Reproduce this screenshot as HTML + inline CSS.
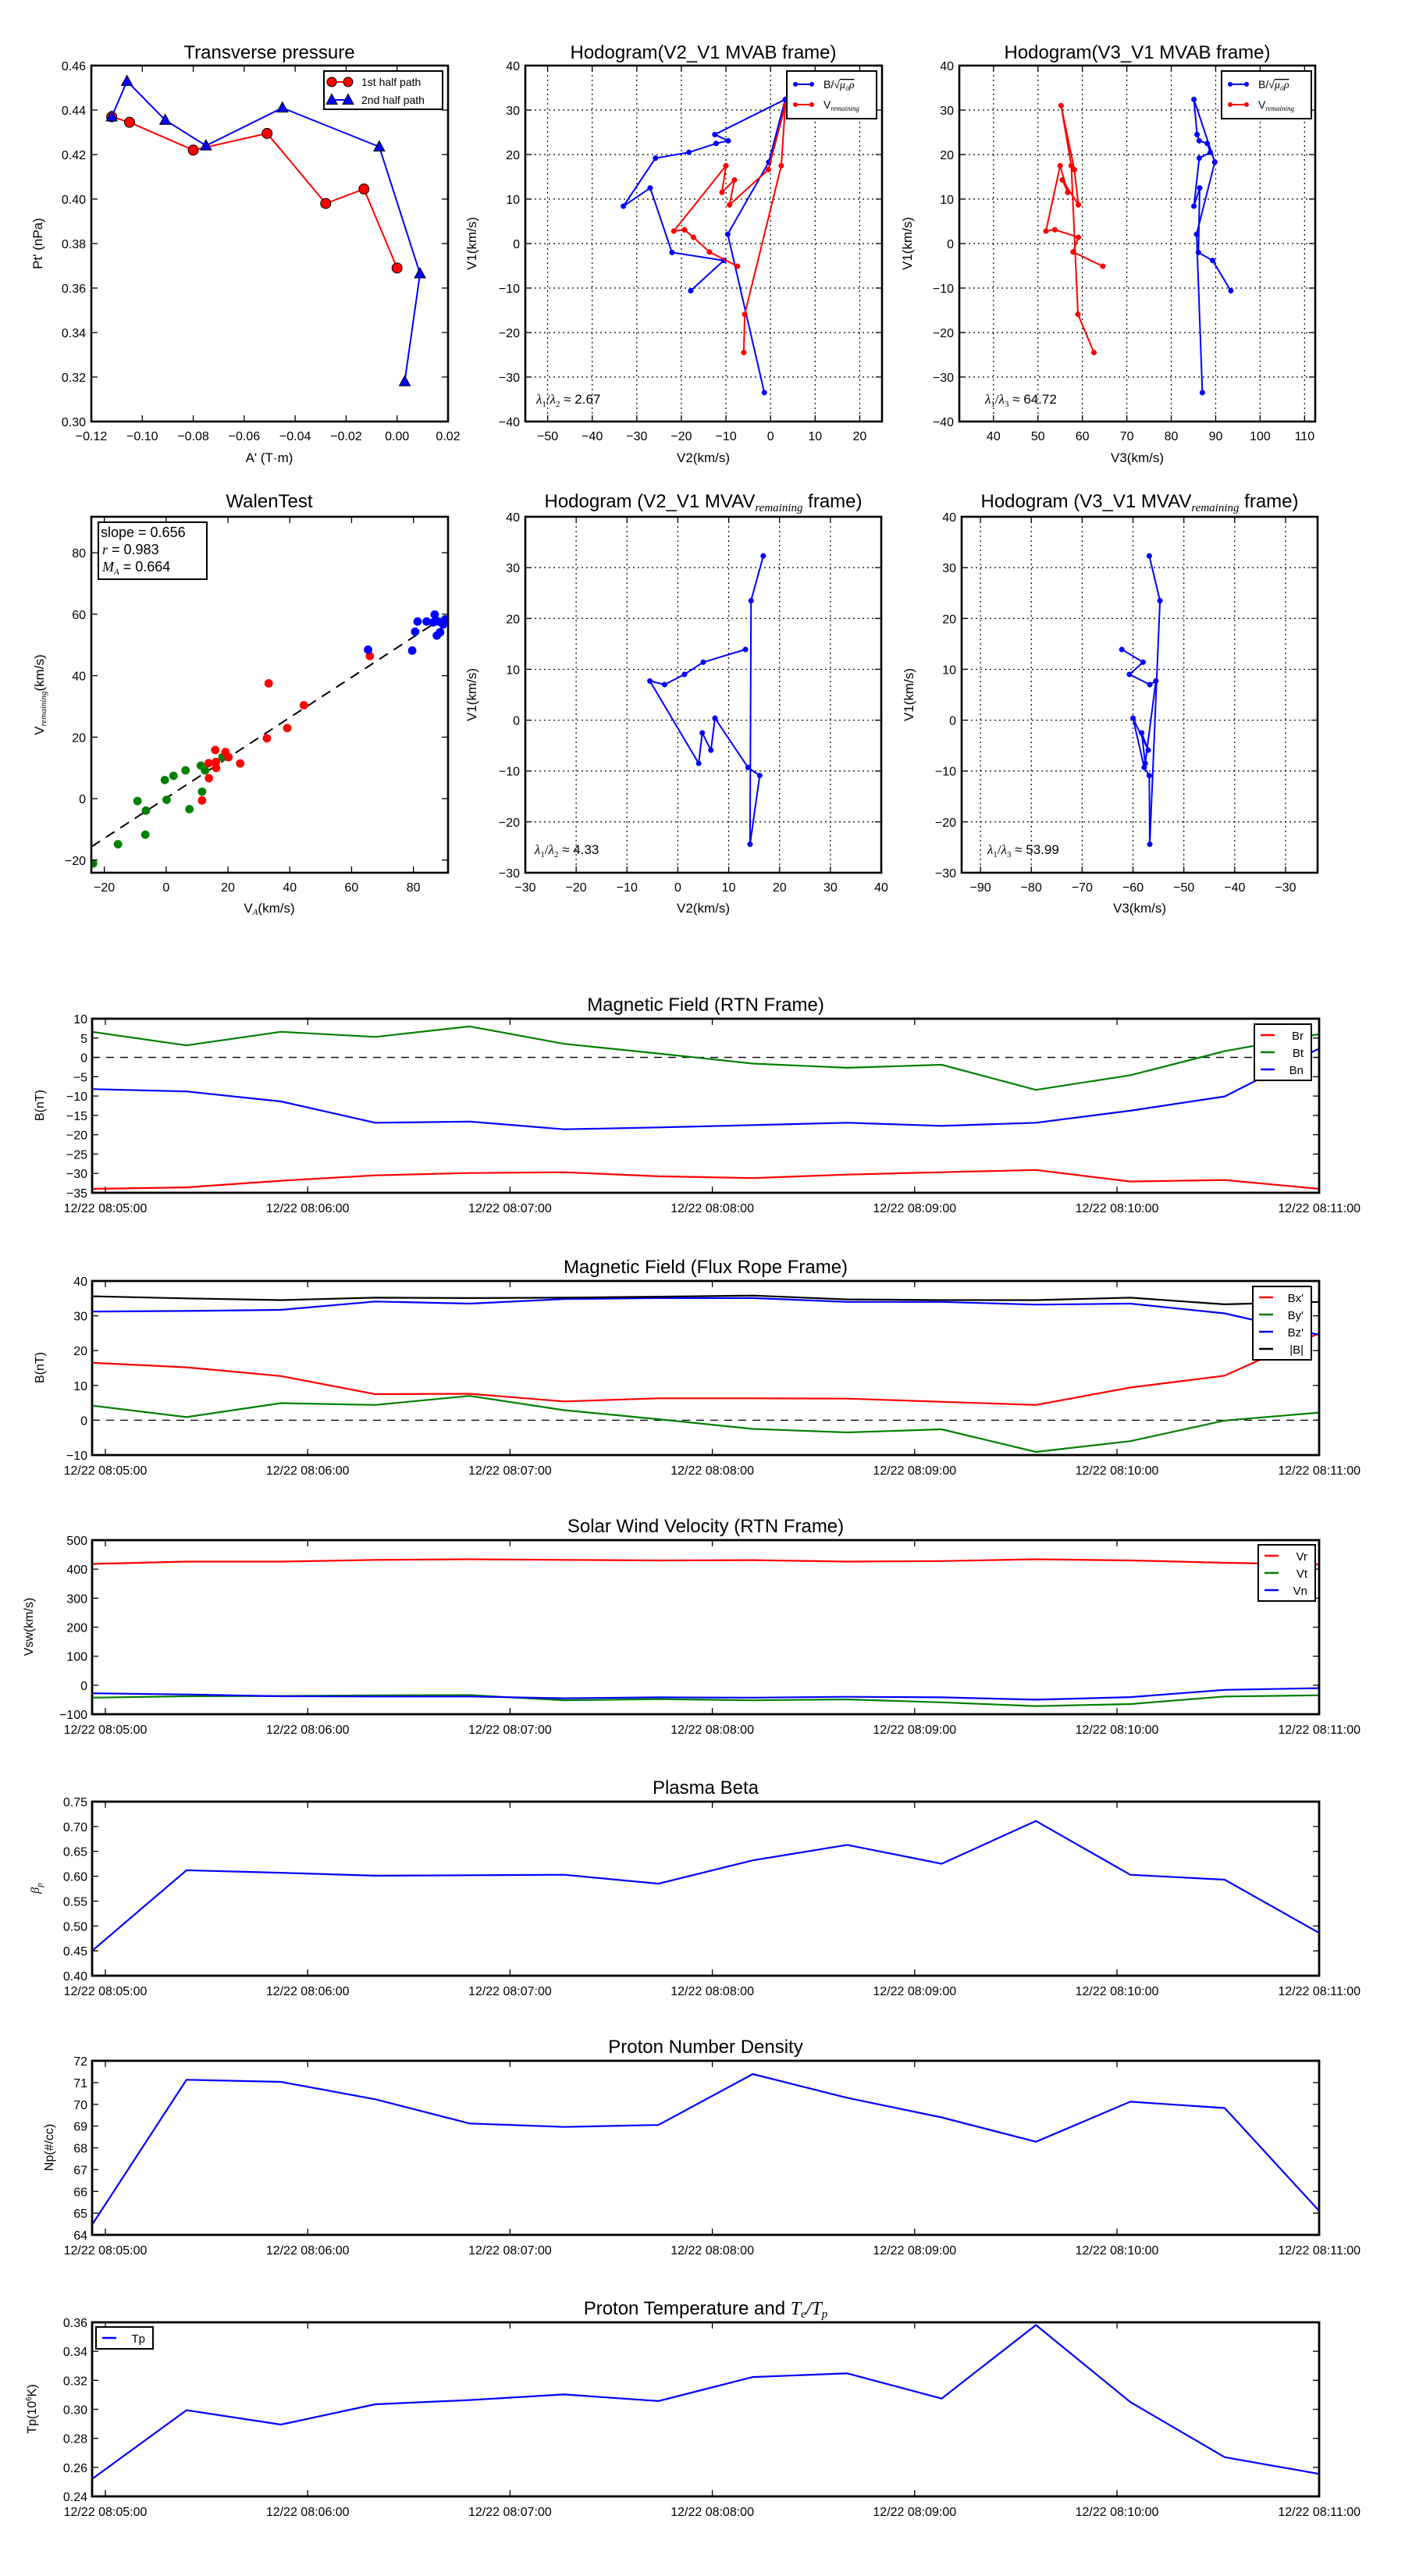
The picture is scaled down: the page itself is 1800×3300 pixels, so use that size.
<!DOCTYPE html>
<html><head><meta charset="utf-8">
<style>
html,body{margin:0;padding:0;background:#fff;}
svg{display:block;font-family:"Liberation Sans",sans-serif;}
</style></head>
<body>
<svg id="s" xmlns="http://www.w3.org/2000/svg" width="1800" height="3300" viewBox="0 0 1800 3300"></svg>
<script>
const NS="http://www.w3.org/2000/svg";
const S=document.getElementById('s');
function el(tag,a,txt,parent){const e=document.createElementNS(NS,tag);for(const k in a)e.setAttribute(k,a[k]);if(txt!==undefined&&txt!==null)e.textContent=txt;(parent||S).appendChild(e);return e;}
function mk(o){o.X=v=>o.l+(v-o.x0)/(o.x1-o.x0)*(o.r-o.l);o.Y=v=>o.b-(v-o.y0)/(o.y1-o.y0)*(o.b-o.t);return o;}
function fmt(v,d){let s=v.toFixed(d);if(s.startsWith('-'))s='\u2212'+s.slice(1);return s;}
function rng(a,b,s){const r=[];for(let v=a;v<=b+s*1e-6;v+=s)r.push(+v.toFixed(6));return r;}
function grid(o,xt,yt){
  xt.forEach(v=>{const x=o.X(v);el('line',{x1:x,x2:x,y1:o.t,y2:o.b,stroke:'#000','stroke-width':1.2,'stroke-dasharray':'2,4'});});
  yt.forEach(v=>{const y=o.Y(v);el('line',{x1:o.l,x2:o.r,y1:y,y2:y,stroke:'#000','stroke-width':1.2,'stroke-dasharray':'2,4'});});
}
function frame(o,xt,yt,xd,yd,fs,xlabs){
  fs=fs||16;
  xt.forEach((v,i)=>{const x=o.X(v);
    el('line',{x1:x,x2:x,y1:o.b,y2:o.b-8,stroke:'#000','stroke-width':1.3});
    el('line',{x1:x,x2:x,y1:o.t,y2:o.t+8,stroke:'#000','stroke-width':1.3});
    el('text',{x:x,y:o.b+24,'font-size':fs,'text-anchor':'middle'},xlabs?xlabs[i]:fmt(v,xd));});
  yt.forEach(v=>{const y=o.Y(v);
    el('line',{x1:o.l,x2:o.l+8,y1:y,y2:y,stroke:'#000','stroke-width':1.3});
    el('line',{x1:o.r,x2:o.r-8,y1:y,y2:y,stroke:'#000','stroke-width':1.3});
    el('text',{x:o.l-7,y:y+6,'font-size':fs,'text-anchor':'end'},fmt(v,yd));});
  el('rect',{x:o.l,y:o.t,width:o.r-o.l,height:o.b-o.t,fill:'none',stroke:'#000','stroke-width':2.6});
}
function poly(o,pts,c,w){return el('polyline',{points:pts.map(p=>o.X(p[0]).toFixed(1)+','+o.Y(p[1]).toFixed(1)).join(' '),fill:'none',stroke:c,'stroke-width':w||2,'stroke-linejoin':'round'});}
function dots(o,pts,c,r){pts.forEach(p=>el('circle',{cx:o.X(p[0]),cy:o.Y(p[1]),r:r,fill:c,stroke:c,'stroke-width':0.5}));}
function title(x,y,t,fs){return el('text',{x:x,y:y,'font-size':fs||24,'text-anchor':'middle'},t);}
function ylab(x,y,t,fs){return el('text',{x:x,y:y,'font-size':fs||17,'text-anchor':'middle',transform:`rotate(-90 ${x} ${y})`},t);}
const R='#ff0000',G='#008000',B='#0000ff';

/* ---------- Transverse pressure ---------- */
let o=mk({l:117,r:574,t:84,b:540,x0:-0.12,x1:0.02,y0:0.30,y1:0.46});
let red=[[-0.112,0.437],[-0.105,0.4345],[-0.080,0.422],[-0.051,0.4295],[-0.028,0.398],[-0.013,0.4045],[0.000,0.369]];
let blu=[[-0.112,0.437],[-0.106,0.453],[-0.091,0.4355],[-0.075,0.424],[-0.045,0.441],[-0.007,0.4235],[0.009,0.3665],[0.003,0.318]];
poly(o,red,R,2);poly(o,blu,B,2);
red.forEach(p=>el('circle',{cx:o.X(p[0]),cy:o.Y(p[1]),r:6.5,fill:R,stroke:'#000','stroke-width':1}));
function tri(x,y,c){el('polygon',{points:`${x},${y-7.5} ${x-7},${y+5.5} ${x+7},${y+5.5}`,fill:c,stroke:'#000','stroke-width':1});}
blu.forEach(p=>tri(o.X(p[0]),o.Y(p[1]),B));
frame(o,rng(-0.12,0.02,0.02),rng(0.30,0.46,0.02),2,2,16);
title(345,75,'Transverse pressure');
ylab(54,312,"Pt' (nPa)");
el('text',{x:345,y:592,'font-size':17,'text-anchor':'middle'},"A' (T\u00b7m)");
el('rect',{x:415,y:91,width:152,height:49,fill:'#fff',stroke:'#000','stroke-width':2});
el('line',{x1:425,x2:446,y1:105,y2:105,stroke:R,'stroke-width':2});
el('circle',{cx:425,cy:105,r:6,fill:R,stroke:'#000'});el('circle',{cx:446,cy:105,r:6,fill:R,stroke:'#000'});
el('text',{x:463,y:110,'font-size':14},'1st half path');
el('line',{x1:425,x2:446,y1:128,y2:128,stroke:B,'stroke-width':2});
tri(425,128,B);tri(446,128,B);
el('text',{x:463,y:133,'font-size':14},'2nd half path');

/* ---------- Hodogram V2_V1 MVAB ---------- */
function hodoLegend(x,y){
  el('rect',{x:x,y:y,width:115,height:61,fill:'#fff',stroke:'#000','stroke-width':2});
  el('line',{x1:x+11,x2:x+32,y1:y+17,y2:y+17,stroke:B,'stroke-width':2});
  el('circle',{cx:x+11,cy:y+17,r:3,fill:B});el('circle',{cx:x+32,cy:y+17,r:3,fill:B});
  const t=el('text',{x:x+47,y:y+22,'font-size':14},'B/\u221a');
  el('tspan',{'font-family':'Liberation Serif, serif','font-style':'italic','text-decoration':'overline'},'\u03bc\u2080\u03c1',t);
  el('line',{x1:x+11,x2:x+32,y1:y+43,y2:y+43,stroke:R,'stroke-width':2});
  el('circle',{cx:x+11,cy:y+43,r:3,fill:R});el('circle',{cx:x+32,cy:y+43,r:3,fill:R});
  const t2=el('text',{x:x+47,y:y+48,'font-size':14},'V');
  el('tspan',{'font-family':'Liberation Serif, serif','font-style':'italic','font-size':9,dy:3},'remaining',t2);
}
function lam(x,y,a,b,val){
  const t=el('text',{x:x,y:y,'font-size':17,'font-family':'Liberation Serif, serif'},'');
  el('tspan',{'font-style':'italic'},'\u03bb',t);el('tspan',{'font-size':11,dy:4},'1',t);
  el('tspan',{dy:-4},'/',t);el('tspan',{'font-style':'italic'},'\u03bb',t);el('tspan',{'font-size':11,dy:4},b,t);
  el('tspan',{dy:-4,'font-family':'Liberation Sans, sans-serif'},' \u2248 '+val,t);
}
o=mk({l:673,r:1130,t:84,b:540,x0:-55,x1:25,y0:-40,y1:40});
grid(o,rng(-50,20,10),rng(-40,40,10));
let bp=[[-1.4,-33.5],[-9.6,2.1],[-0.4,18.3],[3.3,32.4],[-12.5,24.5],[-9.5,23.1],[-12.2,22.5],[-18.3,20.5],[-25.8,19.2],[-33,8.4],[-27,12.5],[-22.1,-2.0],[-10.5,-3.8],[-17.9,-10.6]];
let rp=[[-6.0,-24.5],[-5.8,-15.9],[2.4,17.5],[3.3,31.0],[-0.5,16.6],[-9.2,8.7],[-8.1,14.3],[-10.9,11.5],[-10,17.5],[-21.7,2.8],[-19.3,3.1],[-17.3,1.4],[-13.7,-1.9],[-7.4,-5.1]];
poly(o,bp,B);dots(o,bp,B,3.3);poly(o,rp,R);dots(o,rp,R,3.3);
frame(o,rng(-50,20,10),rng(-40,40,10),0,0,16);
hodoLegend(1008,91);
lam(687,517,'1','2','2.67');
title(901,75,'Hodogram(V2_V1 MVAB frame)');
ylab(610,312,'V1(km/s)');
el('text',{x:901,y:592,'font-size':17,'text-anchor':'middle'},'V2(km/s)');

/* ---------- Hodogram V3_V1 MVAB ---------- */
o=mk({l:1229,r:1685,t:84,b:540,x0:32.3,x1:112.4,y0:-40,y1:40});
grid(o,rng(40,110,10),rng(-40,40,10));
const bv3=[87.0,85.7,89.8,85.1,85.8,86.3,88.1,88.8,86.3,85.1,86.4,86.1,89.3,93.4];
const rv3=[62.6,59.0,57.5,55.2,58.2,59.1,55.5,56.7,55.0,51.8,53.8,59.1,57.9,64.6];
bp=bp.map((p,i)=>[bv3[i],p[1]]);rp=rp.map((p,i)=>[rv3[i],p[1]]);
poly(o,bp,B);dots(o,bp,B,3.3);poly(o,rp,R);dots(o,rp,R,3.3);
frame(o,rng(40,110,10),rng(-40,40,10),0,0,16);
hodoLegend(1565,91);
lam(1262,517,'1','3','64.72');
title(1457,75,'Hodogram(V3_V1 MVAB frame)');
ylab(1168,312,'V1(km/s)');
el('text',{x:1457,y:592,'font-size':17,'text-anchor':'middle'},'V3(km/s)');

/* ---------- Walen ---------- */
o=mk({l:117,r:574,t:662,b:1118,x0:-24.2,x1:91.2,y0:-24.1,y1:91.7});
const g=el('g',{'clip-path':'url(#cw)'});
const cp=el('clipPath',{id:'cw'});el('rect',{x:117,y:662,width:457,height:456},null,cp);
el('line',{x1:117.3,y1:1084.6,x2:573.8,y2:787.3,stroke:'#000','stroke-width':2,'stroke-dasharray':'13,9'},null,g);
const W=(arr,c)=>arr.forEach(p=>el('circle',{cx:p[0]/2.6,cy:600+p[1]/2.6,r:5.4,fill:c},null,g));
W([[310,1316],[393,1252],[458,1108],[486,1140],[484,1220],[549,1038],[555,1104],[578,1024],[618,1006],[631,1135],[669,990],[673,1077],[683,1006],[741,962]],G);
W([[673,1106],[695,982],[696,1032],[717,938],[719,978],[720,998],[751,945],[761,962],[800,983],[889,899],[895,716],[957,865],[1012,789],[1232,625]],R);
W([[1226,604],[1373,607],[1383,544],[1391,510],[1421,510],[1448,487],[1443,513],[1455,557],[1466,546],[1477,516],[1483,503],[1476,520],[1460,510]],B);
frame(o,rng(-20,80,20),rng(-20,80,20),0,0,16);
el('rect',{x:126,y:669,width:139,height:73,fill:'#fff',stroke:'#000','stroke-width':2});
el('text',{x:129,y:688,'font-size':18},'slope = 0.656');
let t=el('text',{x:131,y:710,'font-size':18},'');el('tspan',{'font-family':'Liberation Serif, serif','font-style':'italic'},'r',t);el('tspan',{},' = 0.983',t);
t=el('text',{x:131,y:732,'font-size':18},'');el('tspan',{'font-family':'Liberation Serif, serif','font-style':'italic'},'M',t);el('tspan',{'font-family':'Liberation Serif, serif','font-style':'italic','font-size':11,dy:4},'A',t);el('tspan',{dy:-4},' = 0.664',t);
title(345,650,'WalenTest');
t=el('text',{x:56,y:890,'font-size':17,'text-anchor':'middle',transform:'rotate(-90 56 890)'},'V');
el('tspan',{'font-family':'Liberation Serif, serif','font-style':'italic','font-size':11,dy:3},'remaining',t);el('tspan',{dy:-3},'(km/s)',t);
t=el('text',{x:345,y:1169,'font-size':17,'text-anchor':'middle'},'V');
el('tspan',{'font-family':'Liberation Serif, serif','font-style':'italic','font-size':11,dy:3},'A',t);el('tspan',{dy:-3},'(km/s)',t);

/* ---------- MVAV hodograms ---------- */
function ttlRem(x,y,pre){const t=el('text',{x:x,y:y,'font-size':24,'text-anchor':'middle'},pre);
  el('tspan',{'font-family':'Liberation Serif, serif','font-style':'italic','font-size':15,dy:5},'remaining',t);el('tspan',{dy:-5},' frame)',t);}
const v1=[32.3,23.5,-24.4,-10.9,-9.3,0.4,-5.9,-2.5,-8.5,7.7,7.0,9.0,11.4,13.9];
const v2=[16.8,14.4,14.2,16.1,13.8,7.3,6.5,4.8,4.1,-5.5,-2.6,1.3,5.0,13.3];
const v3=[-56.8,-54.7,-56.7,-56.8,-57.8,-60.0,-57.0,-58.3,-57.6,-55.5,-56.7,-60.7,-58.0,-62.2];
o=mk({l:673,r:1129,t:662,b:1118,x0:-30,x1:40,y0:-30,y1:40});
grid(o,rng(-30,40,10),rng(-30,40,10));
let pp=v1.map((y,i)=>[v2[i],y]);poly(o,pp,B);dots(o,pp,B,3.3);
frame(o,rng(-30,40,10),rng(-30,40,10),0,0,16);
lam(685,1094,'1','2','4.33');
ttlRem(901,650,'Hodogram (V2_V1 MVAV');
ylab(610,890,'V1(km/s)');
el('text',{x:901,y:1169,'font-size':17,'text-anchor':'middle'},'V2(km/s)');
o=mk({l:1232,r:1688,t:662,b:1118,x0:-93.7,x1:-23.7,y0:-30,y1:40});
grid(o,rng(-90,-30,10),rng(-30,40,10));
pp=v1.map((y,i)=>[v3[i],y]);poly(o,pp,B);dots(o,pp,B,3.3);
frame(o,rng(-90,-30,10),rng(-30,40,10),0,0,16);
lam(1265,1094,'1','3','53.99');
ttlRem(1460,650,'Hodogram (V3_V1 MVAV');
ylab(1170,890,'V1(km/s)');
el('text',{x:1460,y:1169,'font-size':17,'text-anchor':'middle'},'V3(km/s)');

/* ---------- Time series ---------- */
const TL=['12/22 08:05:00','12/22 08:06:00','12/22 08:07:00','12/22 08:08:00','12/22 08:09:00','12/22 08:10:00','12/22 08:11:00'];
const TX=[0,1,2,3,4,5,6].map(k=>135+259.2*k);
function ts(top,y0,y1,ystep,yd,ttl,yl,ylx,series,zero,legend){
  const o=mk({l:118,r:1690,t:top,b:top+223,x0:0,x1:1,y0:y0,y1:y1});
  o.X=i=>118+120.92*i;
  if(zero)el('line',{x1:118,x2:1690,y1:o.Y(0),y2:o.Y(0),stroke:'#000','stroke-width':1.3,'stroke-dasharray':'10,8'});
  series.forEach(s=>poly(o,s[1].map((v,i)=>[i,v]),s[0],2.2));
  // frame
  TX.forEach((x,i)=>{el('line',{x1:x,x2:x,y1:o.b,y2:o.b-8,stroke:'#000','stroke-width':1.3});el('line',{x1:x,x2:x,y1:o.t,y2:o.t+8,stroke:'#000','stroke-width':1.3});
    el('text',{x:x,y:o.b+25,'font-size':16,'text-anchor':'middle'},TL[i]);});
  rng(y0,y1,ystep).forEach(v=>{const y=o.Y(v);el('line',{x1:o.l,x2:o.l+8,y1:y,y2:y,stroke:'#000','stroke-width':1.3});el('line',{x1:o.r,x2:o.r-8,y1:y,y2:y,stroke:'#000','stroke-width':1.3});
    el('text',{x:o.l-6,y:y+6,'font-size':16,'text-anchor':'end'},fmt(v,yd));});
  el('rect',{x:o.l,y:o.t,width:o.r-o.l,height:o.b-o.t,fill:'none',stroke:'#000','stroke-width':2.8});
  if(typeof ttl==='string')title(904,top-10,ttl);else ttl(top-10);
  if(typeof yl==='string')ylab(ylx,top+111,yl,16);else yl(top+111);
  if(legend){const [lx,ly,w,items]=legend;const h=items.length*22+6;
    el('rect',{x:lx,y:ly,width:w,height:h,fill:'#fff',stroke:'#000','stroke-width':2});
    items.forEach((it,k)=>{const yy=ly+14+k*22;el('line',{x1:lx+8,x2:lx+26,y1:yy,y2:yy,stroke:it[0],'stroke-width':2.4});
      el('text',{x:lx+w-10,y:yy+6,'font-size':15,'text-anchor':'end'},it[1]);});}
}
ts(1305,-35,10,5,0,'Magnetic Field (RTN Frame)','B(nT)',56,[
 [R,[-34.0,-33.6,-31.9,-30.5,-29.9,-29.7,-30.75,-31.2,-30.3,-29.7,-29.1,-32.1,-31.7,-34.0]],
 [G,[6.6,3.1,6.6,5.3,8.0,3.5,1.0,-1.6,-2.7,-1.9,-8.4,-4.6,1.6,6.0]],
 [B,[-8.2,-8.8,-11.4,-16.9,-16.6,-18.6,-18.1,-17.5,-16.9,-17.7,-16.9,-13.8,-10.1,2.3]]],true,
 [1607,1312,73,[[R,'Br'],[G,'Bt'],[B,'Bn']]]);
ts(1641,-10,40,10,0,'Magnetic Field (Flux Rope Frame)','B(nT)',56,[
 [R,[16.5,15.2,12.7,7.5,7.6,5.4,6.3,6.3,6.2,5.3,4.4,9.4,12.8,25.0]],
 [G,[4.2,0.9,4.9,4.4,7.0,2.9,0.3,-2.5,-3.5,-2.6,-9.1,-6.0,-0.1,2.2]],
 [B,[31.2,31.4,31.7,34.1,33.5,34.8,35.1,35.1,34.0,34.0,33.2,33.5,30.7,24.5]],
 ['#000',[35.6,35.0,34.5,35.2,35.1,35.2,35.5,35.8,34.7,34.5,34.5,35.2,33.3,34.0]]],true,
 [1605,1648,75,[[R,"Bx'"],[G,"By'"],[B,"Bz'"],['#000','|B|']]]);
ts(1973,-100,500,100,0,'Solar Wind Velocity (RTN Frame)','Vsw(km/s)',42,[
 [R,[418,426,426,432,434,432,430,431,426,428,434,430,422,416]],
 [G,[-43,-38,-37,-35,-34,-52,-48,-52,-49,-59,-72,-65,-39,-35]],
 [B,[-28,-32,-38,-39,-39,-45,-42,-43,-40,-42,-50,-41,-16,-10]]],false,
 [1612,1979,73,[[R,'Vr'],[G,'Vt'],[B,'Vn']]]);
ts(2308,0.40,0.75,0.05,2,'Plasma Beta',y=>{const t=el('text',{x:50,y:y,'font-size':16,'text-anchor':'middle','font-family':'Liberation Serif, serif','font-style':'italic',transform:`rotate(-90 50 ${y})`},'\u03b2');el('tspan',{'font-size':11,dy:4},'p',t);},0,[
 [B,[0.450,0.612,0.607,0.601,0.602,0.603,0.585,0.632,0.663,0.625,0.711,0.603,0.593,0.486]]],false,null);
ts(2640,64,72,1,0,'Proton Number Density','Np(#/cc)',68,[
 [B,[64.47,71.13,71.03,70.23,69.12,68.96,69.05,71.39,70.3,69.4,68.28,70.12,69.83,65.1]]],false,null);
ts(2975,0.24,0.36,0.02,2,y=>{const t=el('text',{x:904,y:y,'font-size':24,'text-anchor':'middle'},'Proton Temperature and ');
  el('tspan',{'font-family':'Liberation Serif, serif','font-style':'italic'},'T',t);el('tspan',{'font-family':'Liberation Serif, serif','font-style':'italic','font-size':15,dy:4},'e',t);
  el('tspan',{'font-family':'Liberation Serif, serif','font-style':'italic',dy:-4},'/T',t);el('tspan',{'font-family':'Liberation Serif, serif','font-style':'italic','font-size':15,dy:4},'p',t);},
 y=>{const t=el('text',{x:46,y:y,'font-size':16,'text-anchor':'middle',transform:`rotate(-90 46 ${y})`},'Tp(10');el('tspan',{'font-size':10,dy:-6},'6',t);el('tspan',{dy:6},'K)',t);},0,[
 [B,[0.252,0.2994,0.2895,0.3035,0.3064,0.3103,0.3057,0.3223,0.3248,0.3074,0.3581,0.305,0.267,0.2555]]],false,
 [123,2981,73,[[B,'Tp']]]);
</script>
</body></html>
